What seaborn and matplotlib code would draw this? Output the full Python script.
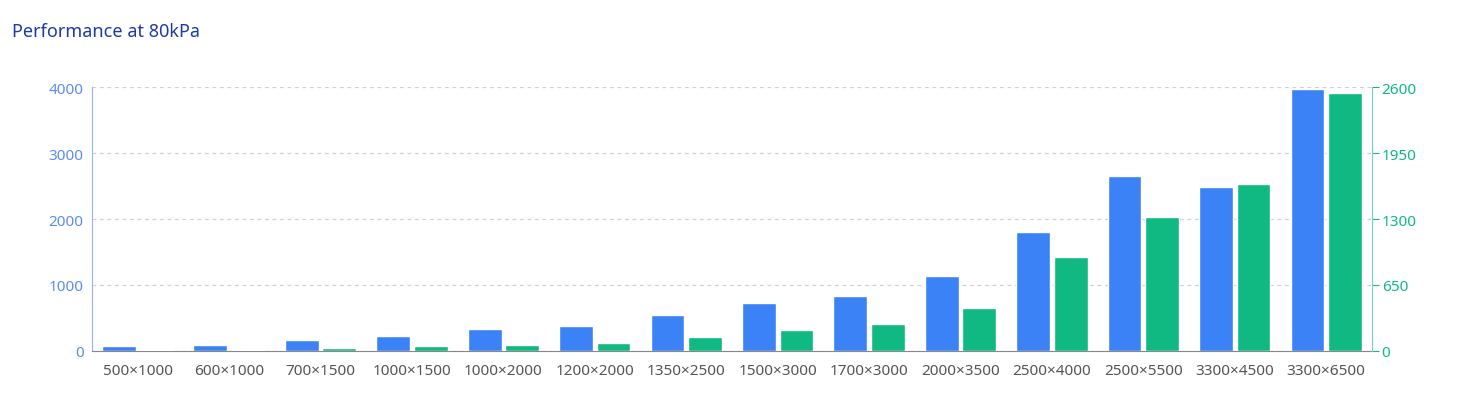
import matplotlib
matplotlib.use("Agg")
import matplotlib.pyplot as plt
import seaborn as sns
import pandas as pd
import numpy as np

categories = ["500×1000","600×1000","700×1500","1000×1500","1000×2000","1200×2000","1350×2500",
              "1500×3000","1700×3000","2000×3500","2500×4000","2500×5500","3300×4500","3300×6500"]
blue_vals = [76, 90, 167, 227, 333, 379, 545, 727, 833, 1136, 1803, 2652, 2485, 3970]
green_vals = [5, 8, 25, 50, 60, 80, 140, 207, 266, 423, 926, 1320, 1645, 2541]
series = ["A", "B"]
BLUE, GREEN = "#3b82f6", "#10b981"

sns.set_style("white")
plt.rcParams['font.family'] = ['Noto Sans', 'DejaVu Sans']

dfL = pd.DataFrame({"cat": categories*2, "s": ["A"]*14+["B"]*14,
                    "v": blue_vals + [np.nan]*14})
dfR = pd.DataFrame({"cat": categories*2, "s": ["A"]*14+["B"]*14,
                    "v": [np.nan]*14 + green_vals})

fig = plt.figure(figsize=(14.76, 4.14), dpi=100)
ax = fig.add_axes([0.0623, 0.150, 0.8672, 0.637])
ax2 = ax.twinx()
pal = {"A": BLUE, "B": GREEN}
sns.barplot(data=dfL, x="cat", y="v", hue="s", hue_order=series, palette=pal, ax=ax,
            width=0.82, gap=0.1, legend=False, saturation=1)
sns.barplot(data=dfR, x="cat", y="v", hue="s", hue_order=series, palette=pal, ax=ax2,
            width=0.82, gap=0.1, legend=False, saturation=1)
ax.set_ylim(0, 4000); ax.set_yticks([0,1000,2000,3000,4000])
ax2.set_ylim(0, 2600); ax2.set_yticks([0,650,1300,1950,2600])
ax.set_xlim(-0.5, 13.5)
ax.set_xlabel(""); ax.set_ylabel(""); ax2.set_ylabel("")
ax.yaxis.grid(True, linestyle=(0,(3,3)), color="#d0d0d0", linewidth=0.9)
ax.set_axisbelow(True)
for a in (ax, ax2):
    for s in ("top",):
        a.spines[s].set_visible(False)
ax.spines["right"].set_visible(False)
ax2.spines["top"].set_visible(False)
ax.spines["left"].set_color("#93b4f5")
ax2.spines["right"].set_color("#6fd6b0")
ax2.spines["left"].set_visible(False)
ax.spines["bottom"].set_color("#888888")
ax2.spines["bottom"].set_visible(False)
ax.tick_params(axis="y", colors=BLUE, labelsize=11, length=0, pad=6)
ax.tick_params(axis="y", labelcolor="#5b8def")
ax2.tick_params(axis="y", colors=GREEN, labelsize=11, length=5, pad=2)
ax.tick_params(axis="x", labelsize=11, labelcolor="#555555", length=5, color="#888888")
fig.text(0.008, 0.91, "Performance at 80kPa", fontsize=13, fontweight="bold", color="#1e3aa8")
fig.savefig("out.png", dpi=100)
